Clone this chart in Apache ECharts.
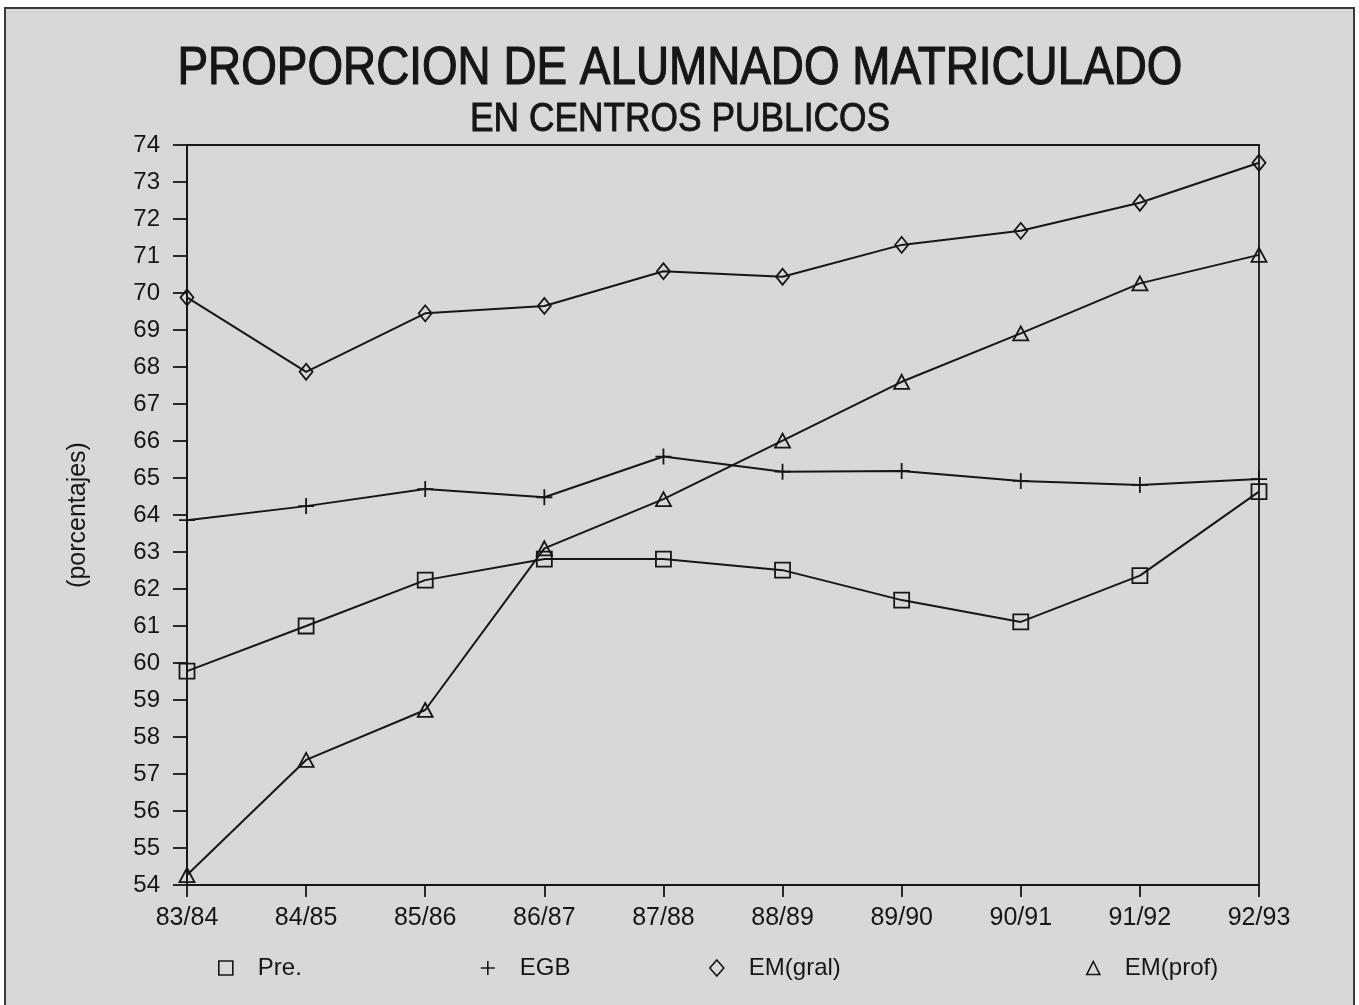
<!DOCTYPE html>
<html>
<head>
<meta charset="utf-8">
<script src="https://cdn.jsdelivr.net/npm/echarts@6/dist/echarts.min.js"></script>
<style>
html,body{margin:0;padding:0;background:#fff;}
#chart{width:1359px;height:1005px;}
</style>
</head>
<body>
<div id="chart"></div>
<script>
const categories = ['83/84','84/85','85/86','86/87','87/88','88/89','89/90','90/91','91/92','92/93'];
const pre    = [59.78, 61.00, 62.24, 62.81, 62.81, 62.51, 61.70, 61.11, 62.36, 64.63];
const egb    = [63.86, 64.24, 64.70, 64.48, 65.58, 65.17, 65.19, 64.92, 64.81, 64.97];
const emGral = [69.88, 67.87, 69.45, 69.65, 70.59, 70.44, 71.30, 71.68, 72.44, 73.52];
const emProf = [54.27, 57.38, 58.73, 63.10, 64.43, 66.01, 67.60, 68.91, 70.26, 71.03];
const seriesNames = ['Pre.', 'EGB', 'EM(gral)', 'EM(prof)'];
const titleText = 'PROPORCION DE ALUMNADO MATRICULADO';
const subtitleText = 'EN CENTROS PUBLICOS';
const yAxisName = '(porcentajes)';

const INK = '#161616';
const FONT = '"Liberation Sans", Arial, Helvetica, sans-serif';
const PLUS = 'path://M0,5L10,5M5,0L5,10';

function textWidth(t, font) {
  const c = document.createElement('canvas').getContext('2d');
  c.font = font;
  return c.measureText(t).width;
}
const titleFont = '53px ' + FONT;
const subFont = '40px ' + FONT;
const titleScale = 1005 / textWidth(titleText, titleFont);
const subScale = 420 / textWidth(subtitleText, subFont);

const chart = echarts.init(document.getElementById('chart'), null, {renderer: 'canvas'});

function lineSeries(name, data, symbol, size) {
  return {
    name: name,
    type: 'line',
    data: data,
    symbol: symbol,
    symbolSize: size,
    showAllSymbol: true,
    lineStyle: {color: INK, width: 2},
    itemStyle: {color: 'rgba(0,0,0,0)', borderColor: INK, borderWidth: 1.8},
    emphasis: {disabled: true},
    z: 3
  };
}

function legendAt(name, icon, left, w, h) {
  return {
    data: [name],
    left: left,
    top: 956,
    icon: icon,
    itemWidth: w,
    itemHeight: h,
    padding: 0,
    selectedMode: false,
    itemStyle: {color: 'rgba(0,0,0,0)', borderColor: INK, borderWidth: 1.6},
    textStyle: {fontFamily: FONT, fontSize: 24, color: INK, padding: [0, 0, 0, 20]}
  };
}

const option = {
  backgroundColor: '#ffffff',
  animation: false,
  graphic: [
    {type: 'rect', z: -10, silent: true,
     shape: {x: 5, y: 8, width: 1349, height: 1010},
     style: {fill: '#d8d8d8', stroke: '#3a3a3a', lineWidth: 2}},
    {type: 'text', x: 680, y: 69, scaleX: titleScale, silent: true,
     style: {text: titleText, font: titleFont, fill: INK, stroke: INK, lineWidth: 1.2, textAlign: 'center', textVerticalAlign: 'middle'}},
    {type: 'text', x: 680, y: 120, scaleX: subScale, silent: true,
     style: {text: subtitleText, font: subFont, fill: INK, stroke: INK, lineWidth: 0.9, textAlign: 'center', textVerticalAlign: 'middle'}}
  ],
  grid: {left: 187, right: 100, top: 145, bottom: 120, show: true, borderColor: INK, borderWidth: 1.8, backgroundColor: 'transparent'},
  legend: [
    legendAt(seriesNames[0], 'rect', 218, 14, 14),
    legendAt(seriesNames[1], PLUS, 480, 14, 14),
    legendAt(seriesNames[2], 'diamond', 709, 14, 16),
    legendAt(seriesNames[3], 'triangle', 1086, 13, 13)
  ],
  xAxis: {
    type: 'category',
    data: categories,
    boundaryGap: false,
    axisLine: {lineStyle: {color: INK, width: 1.8}},
    axisTick: {show: true, length: 12, inside: false, lineStyle: {color: INK, width: 1.8}},
    axisLabel: {fontFamily: FONT, fontSize: 25, color: INK, margin: 21},
    splitLine: {show: false}
  },
  yAxis: {
    type: 'value',
    min: 54,
    max: 74,
    interval: 1,
    name: yAxisName,
    nameLocation: 'middle',
    nameRotate: 90,
    nameGap: 96,
    nameTextStyle: {fontFamily: FONT, fontSize: 25, color: INK},
    axisLine: {show: true, lineStyle: {color: INK, width: 1.8}},
    axisTick: {show: true, length: 14, inside: false, lineStyle: {color: INK, width: 1.8}},
    axisLabel: {fontFamily: FONT, fontSize: 24, color: INK, margin: 27},
    splitLine: {show: false}
  },
  series: [
    lineSeries(seriesNames[0], pre, 'rect', 15),
    lineSeries(seriesNames[1], egb, PLUS, 16),
    lineSeries(seriesNames[2], emGral, 'diamond', [13, 16]),
    lineSeries(seriesNames[3], emProf, 'triangle', [15, 14])
  ]
};
chart.setOption(option);
</script>
</body>
</html>
